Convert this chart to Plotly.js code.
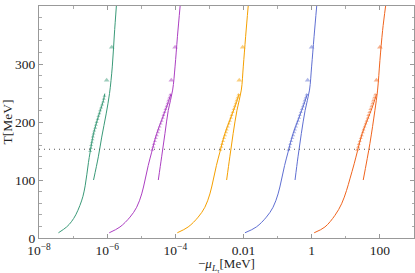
<!DOCTYPE html>
<html>
<head>
<meta charset="utf-8">
<script src="https://cdn.plot.ly/plotly-3.0.1.min.js"></script>
<style>html,body{margin:0;padding:0;background:#fff;}#chart{width:415px;height:273px;}</style>
</head>
<body>
<div id="chart"></div>
<script>
// ---- data ----
const tickVals = [1e-8, 1e-6, 1e-4, 0.01, 1, 100];
const tickText = ['10<sup>−8</sup>', '10<sup>−6</sup>', '10<sup>−4</sup>', '0.01', '1', '100'];
const minorTickVals = [1e-7, 1e-5, 1e-3, 0.1, 10, 1000];
const tcLine = 153;

// green
const greenMainT  = [9, 19, 28, 40, 56, 72, 90, 110, 130, 148, 180, 209, 237, 249];
const greenMainMu = [3.72e-8, 6.46e-8, 8.91e-8, 1.20e-7, 1.58e-7, 1.95e-7, 2.26e-7, 2.54e-7, 2.82e-7, 3.16e-7, 3.98e-7, 5.50e-7, 7.76e-7, 8.51e-7];
const greenSteepT  = [100, 140, 174, 214, 249, 295, 350, 400];
const greenSteepMu = [3.98e-7, 5.50e-7, 6.92e-7, 9.33e-7, 1.17e-6, 1.41e-6, 1.62e-6, 1.86e-6];
const greenDotT  = [150, 155, 160, 165, 170, 175, 180, 185, 190, 195, 200, 205, 210, 215, 220, 225, 230, 235, 240, 245];
const greenDotMu = [3.16e-7, 3.31e-7, 3.39e-7, 3.55e-7, 3.72e-7, 3.80e-7, 3.98e-7, 4.17e-7, 4.47e-7, 4.68e-7, 4.90e-7, 5.25e-7, 5.50e-7, 5.89e-7, 6.17e-7, 6.61e-7, 7.08e-7, 7.59e-7, 7.94e-7, 8.32e-7];
const greenTriT  = [272, 329];
const greenTriMu = [9.66e-7, 1.36e-6];

// purple
const purpleMainT  = [9, 19, 36, 53, 76, 100, 125, 148, 180, 203, 226, 248];
const purpleMainMu = [1.15e-6, 2.37e-6, 4.67e-6, 7.33e-6, 1.03e-5, 1.29e-5, 1.60e-5, 2.02e-5, 2.83e-5, 3.96e-5, 5.56e-5, 7.40e-5];
const purpleSteepT  = [100, 140, 180, 220, 255, 295, 347, 400];
const purpleSteepMu = [3.16e-5, 3.96e-5, 4.95e-5, 6.19e-5, 8.32e-5, 9.77e-5, 1.15e-4, 1.38e-4];
const purpleDotT  = [152, 157, 162, 167, 172, 177, 182, 187, 192, 197, 202, 207, 212, 217, 222, 227, 232, 237, 242, 247];
const purpleDotMu = [2.09e-5, 2.24e-5, 2.34e-5, 2.51e-5, 2.69e-5, 2.88e-5, 3.09e-5, 3.24e-5, 3.47e-5, 3.72e-5, 3.98e-5, 4.27e-5, 4.47e-5, 4.79e-5, 5.13e-5, 5.50e-5, 5.89e-5, 6.17e-5, 6.61e-5, 7.08e-5];
const purpleTriT  = [272, 329];
const purpleTriMu = [7.6e-5, 9.8e-5];

// orange
const orangeMainT  = [9, 19, 36, 53, 76, 100, 125, 148, 180, 203, 226, 248];
const orangeMainMu = [1.14e-4, 2.37e-4, 4.67e-4, 7.33e-4, 1.03e-3, 1.29e-3, 1.60e-3, 2.02e-3, 2.83e-3, 3.96e-3, 5.56e-3, 7.40e-3];
const orangeSteepT  = [100, 140, 180, 220, 255, 295, 347, 400];
const orangeSteepMu = [3.19e-3, 3.96e-3, 4.95e-3, 6.40e-3, 8.60e-3, 9.80e-3, 1.15e-2, 1.37e-2];
const orangeDotT  = [152, 157, 162, 167, 172, 177, 182, 187, 192, 197, 202, 207, 212, 217, 222, 227, 232, 237, 242, 247];
const orangeDotMu = [2.09e-3, 2.24e-3, 2.34e-3, 2.51e-3, 2.69e-3, 2.88e-3, 3.09e-3, 3.24e-3, 3.47e-3, 3.72e-3, 3.98e-3, 4.27e-3, 4.47e-3, 4.79e-3, 5.13e-3, 5.50e-3, 5.89e-3, 6.17e-3, 6.61e-3, 7.08e-3];
const orangeTriT  = [272, 329];
const orangeTriMu = [7.48e-3, 9.42e-3];

// blue
const blueMainT  = [9, 19, 36, 53, 76, 100, 125, 148, 180, 203, 226, 248];
const blueMainMu = [0.0110, 0.0237, 0.0467, 0.0733, 0.103, 0.129, 0.160, 0.202, 0.283, 0.396, 0.556, 0.740];
const blueSteepT  = [100, 140, 180, 220, 255, 295, 347, 400];
const blueSteepMu = [0.324, 0.396, 0.495, 0.640, 0.860, 0.990, 1.17, 1.40];
const blueDotT  = [152, 157, 162, 167, 172, 177, 182, 187, 192, 197, 202, 207, 212, 217, 222, 227, 232, 237, 242, 247];
const blueDotMu = [0.209, 0.224, 0.234, 0.251, 0.269, 0.288, 0.309, 0.324, 0.347, 0.372, 0.398, 0.427, 0.447, 0.479, 0.513, 0.550, 0.589, 0.617, 0.661, 0.708];
const blueTriT  = [272, 329];
const blueTriMu = [0.76, 0.99];

// red
const redMainT  = [9, 19, 39, 59, 82, 102, 128, 151, 180, 203, 226, 248];
const redMainMu = [1.18, 2.44, 4.79, 7.53, 10.5, 13.2, 17.6, 22.2, 30.2, 42.7, 60.3, 79.4];
const redSteepT  = [100, 163, 220, 255, 306, 358, 400];
const redSteepMu = [32.4, 50.9, 71.3, 85.5, 100, 120, 147];
const redDotT  = [152, 157, 162, 167, 172, 177, 182, 187, 192, 197, 202, 207, 212, 217, 222, 227, 232, 237, 242, 247];
const redDotMu = [21.4, 22.9, 24.0, 25.7, 27.5, 29.5, 31.6, 33.1, 35.5, 38.0, 40.7, 43.7, 45.7, 49.0, 52.5, 56.2, 60.3, 63.1, 67.6, 72.4];
const redTriT  = [272, 329];
const redTriMu = [79.4, 100];

// ---- build traces ----
const groups = [
  {c: '#3a9a78', mT: greenMainT, mX: greenMainMu, sT: greenSteepT, sX: greenSteepMu, dT: greenDotT, dX: greenDotMu, tT: greenTriT, tX: greenTriMu},
  {c: '#ac3fc2', mT: purpleMainT, mX: purpleMainMu, sT: purpleSteepT, sX: purpleSteepMu, dT: purpleDotT, dX: purpleDotMu, tT: purpleTriT, tX: purpleTriMu},
  {c: '#f5a000', mT: orangeMainT, mX: orangeMainMu, sT: orangeSteepT, sX: orangeSteepMu, dT: orangeDotT, dX: orangeDotMu, tT: orangeTriT, tX: orangeTriMu},
  {c: '#5f6fd2', mT: blueMainT, mX: blueMainMu, sT: blueSteepT, sX: blueSteepMu, dT: blueDotT, dX: blueDotMu, tT: blueTriT, tX: blueTriMu},
  {c: '#f0641e', mT: redMainT, mX: redMainMu, sT: redSteepT, sX: redSteepMu, dT: redDotT, dX: redDotMu, tT: redTriT, tX: redTriMu}
];
const traces = [];
groups.forEach(g => {
  traces.push({x: g.mX, y: g.mT, mode: 'lines', line: {color: g.c, width: 1, shape: 'spline', smoothing: 1}, hoverinfo: 'skip'});
  traces.push({x: g.sX, y: g.sT, mode: 'lines', line: {color: g.c, width: 1, shape: 'spline', smoothing: 1}, hoverinfo: 'skip'});
  traces.push({x: g.dX, y: g.dT, mode: 'markers', marker: {symbol: 'triangle-up', size: 3.5, color: g.c, opacity: 0.5}, hoverinfo: 'skip'});
  traces.push({x: g.tX, y: g.tT, mode: 'markers', marker: {symbol: 'triangle-up', size: 5, color: g.c, opacity: 0.5}, hoverinfo: 'skip'});
});

const font = {family: 'Liberation Serif, Times New Roman, serif', size: 13.5, color: '#222'};
const titleFont = {family: 'Liberation Serif, Times New Roman, serif', size: 13, color: '#222'};
const layout = {
  width: 415, height: 273,
  margin: {l: 39, r: 1, t: 6, b: 35.3},
  paper_bgcolor: '#fff', plot_bgcolor: '#fff',
  showlegend: false,
  font: font,
  xaxis: {
    type: 'log', range: [-8, 3],
    tickmode: 'array', tickvals: tickVals, ticktext: tickText,
    ticks: 'inside', ticklen: 4, tickcolor: '#999', tickwidth: 1,
    minor: {tickmode: 'array', tickvals: minorTickVals, ticks: 'inside', ticklen: 2.5, tickcolor: '#aaa', showgrid: false},
    showline: true, linecolor: '#999', linewidth: 1, mirror: 'ticks',
    showgrid: false, zeroline: false,
    tickfont: font,
    title: {text: ''}
  },
  yaxis: {
    range: [0, 400], tickmode: 'linear', tick0: 0, dtick: 100,
    ticks: 'inside', ticklen: 4, tickcolor: '#999', tickwidth: 1,
    minor: {dtick: 20, ticks: 'inside', ticklen: 2.5, tickcolor: '#aaa', showgrid: false},
    showline: true, linecolor: '#999', linewidth: 1, mirror: 'ticks',
    showgrid: false, zeroline: false,
    tickfont: font,
    title: {text: 'T[MeV]', font: font, standoff: 2}
  },
  annotations: [{text: '−<i>μ</i><sub><i>L</i><sub>τ</sub></sub>[MeV]', xref: 'paper', yref: 'paper',
                 x: 0.5, y: 0, xanchor: 'center', yanchor: 'top', yshift: -17, borderpad: 0,
                 showarrow: false, font: titleFont}],
  shapes: [{type: 'line', xref: 'paper', x0: 0, x1: 1, yref: 'y', y0: tcLine, y1: tcLine,
            line: {color: '#555', width: 1, dash: '1px,4px'}}]
};
Plotly.newPlot('chart', traces, layout, {staticPlot: true, displayModeBar: false});
</script>
</body>
</html>
